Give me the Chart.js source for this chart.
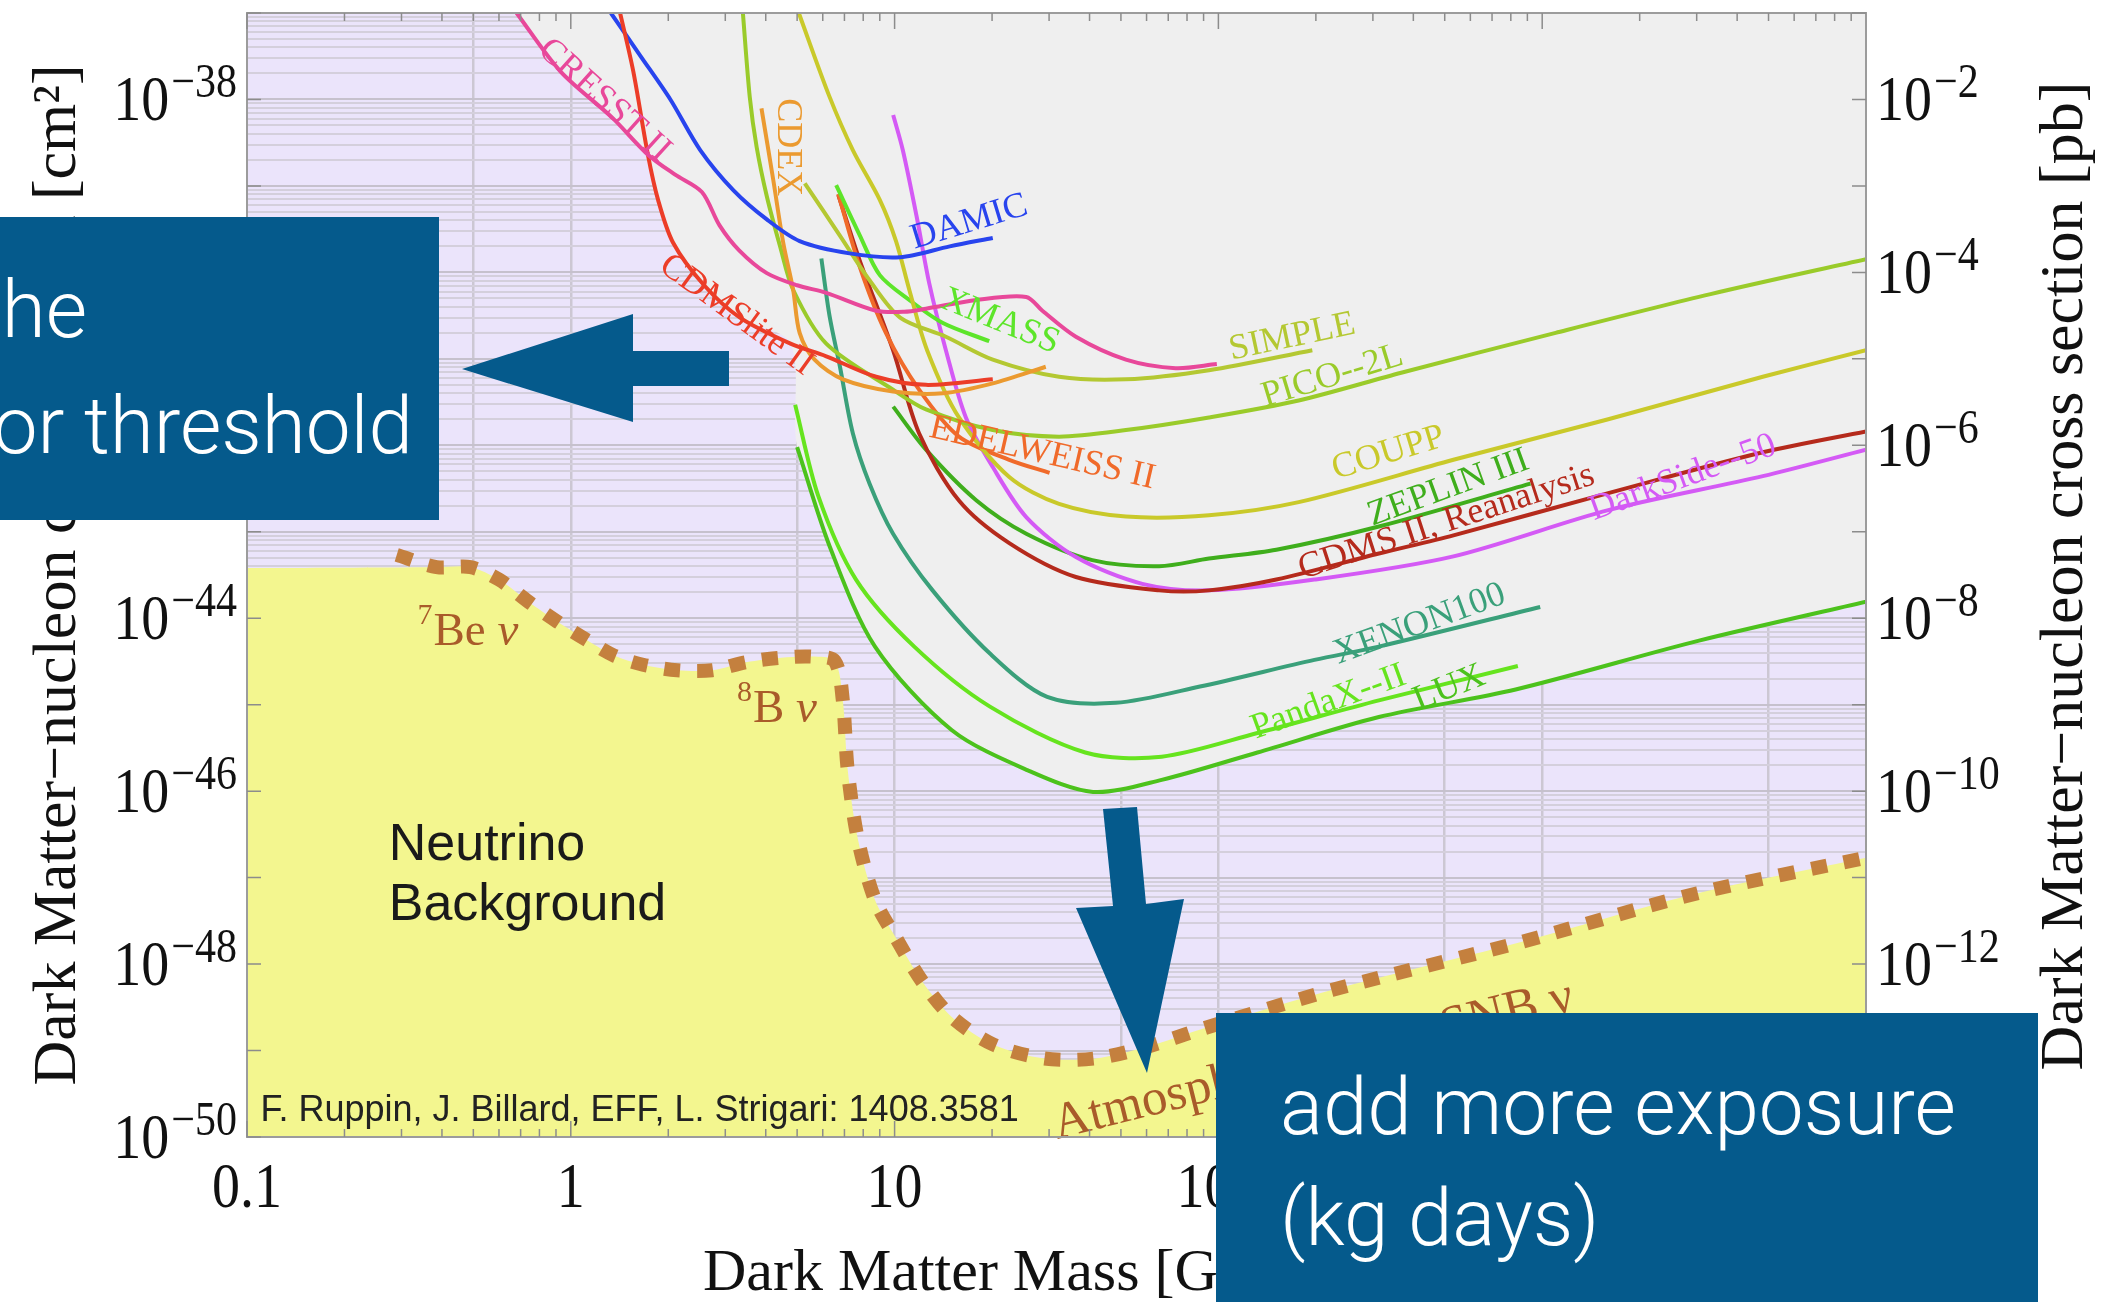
<!DOCTYPE html>
<html>
<head>
<meta charset="utf-8">
<script src="https://cdn.jsdelivr.net/npm/chart.js@4.4.1/dist/chart.umd.min.js"></script>
<style>
  html, body { margin: 0; padding: 0; background: #fff; }
  #wrap { position: relative; width: 2110px; height: 1302px; overflow: hidden; }
  canvas, svg { position: absolute; left: 0; top: 0; }
  .box { position: absolute; background: #055a8c; color: #fff; overflow: hidden;
         font-family: Roboto, "Liberation Sans", sans-serif; font-weight: 300; font-size: 80px; }
  .box span { position: absolute; white-space: nowrap; line-height: 1; }
</style>
</head>
<body>
<div id="wrap">
  <canvas id="chart" width="2110" height="1302"></canvas>
  <svg width="2110" height="1302">
    <polygon points="462,369 633,314 633,351 729,351 729,386 633,386 633,422" fill="#055a8c"/>
    <polygon points="1103,809 1137,807 1146,904 1184,899 1147,1073 1076,908 1113,906" fill="#055a8c"/>
  </svg>
  <div class="box" style="left:0;top:217px;width:439px;height:303px">
    <span style="right:352px;top:53px">lower the</span>
    <span style="right:26px;top:169px">detector threshold</span>
  </div>
  <div class="box" style="left:1216px;top:1013px;width:822px;height:289px">
    <span style="left:64px;top:54px">add more exposure</span>
    <span style="left:64px;top:165px">(kg days)</span>
  </div>
</div>
<script>
// dark matter mass in GeV, cross section in cm^2
const cresstM = [0.68, 0.93, 1.34, 1.73, 2.10, 2.54, 2.88, 3.31, 4.03, 5.0, 6.15, 8.77, 10.7, 12.5, 17.9, 25.5, 28.6, 36.3, 51.8, 73.8, 98.9]
const cresstS = [1.0e-37, 2.1e-38, 6.2e-39, 2.3e-39, 1.35e-39, 8.5e-40, 3.5e-40, 1.8e-40, 9.8e-41, 7.1e-41, 5.8e-41, 3.6e-41, 3.5e-41, 3.8e-41, 4.8e-41, 5.2e-41, 3.6e-41, 1.8e-41, 9.8e-42, 7.8e-42, 8.7e-42]

const cdmsliteM = [1.42, 1.56, 1.73, 1.86, 2.07, 2.58, 3.33, 4.77, 6.15, 8.77, 12.5, 20.1]
const cdmsliteS = [1.0e-37, 2.1e-38, 2.3e-39, 6.9e-40, 2.2e-40, 7.1e-41, 3.0e-41, 1.5e-41, 1.07e-41, 6.2e-42, 5.0e-42, 5.8e-42]

const damicM = [1.33, 1.64, 2.03, 2.51, 3.18, 4.03, 5.09, 7.26, 10.4, 14.8, 20.1]
const damicS = [1.0e-37, 3.2e-38, 1.0e-38, 2.6e-39, 8.9e-40, 4.1e-40, 2.3e-40, 1.66e-40, 1.5e-40, 2.0e-40, 2.5e-40]

const cdexM = [3.88, 4.22, 4.53, 4.86, 5.09, 5.66, 6.93, 9.89, 14.1, 20.1, 29.3]
const cdexS = [7.9e-39, 1.17e-39, 2.2e-40, 6.3e-41, 2.0e-41, 9.8e-42, 5.8e-42, 4.2e-42, 4.0e-42, 5.2e-42, 8.1e-42]

const simpleM = [5.28, 6.76, 8.37, 10.4, 14.4, 20.1, 32.2, 51.8, 93.5, 195]
const simpleS = [1.07e-39, 2.7e-40, 8.1e-41, 3.0e-41, 1.8e-41, 9.8e-42, 6.2e-42, 5.8e-42, 7.4e-42, 1.26e-41]

const picoM = [3.40, 3.57, 3.75, 4.03, 4.43, 4.86, 6.15, 9.89, 12.5, 20.1, 32.2, 51.8, 93.5, 177, 367, 1100, 3310, 10000]
const picoS = [1.0e-37, 1.07e-38, 2.8e-39, 7.6e-40, 2.0e-40, 6.3e-41, 1.5e-41, 4.4e-42, 2.6e-42, 1.5e-42, 1.26e-42, 1.5e-42, 2.1e-42, 3.3e-42, 6.9e-42, 2.0e-41, 5.6e-41, 1.42e-40]

const couppM = [5.06, 6.28, 7.43, 9.0, 10.1, 11.1, 12.6, 15.8, 22.6, 32.2, 51.8, 93.5, 177, 532, 1600, 4800, 10000]
const couppS = [1.0e-37, 1.1e-38, 2.6e-39, 6.9e-40, 2.3e-40, 6.3e-41, 1.26e-41, 2.1e-42, 4.3e-43, 2.1e-43, 1.5e-43, 1.55e-43, 2.2e-43, 6.8e-43, 2.0e-42, 6.2e-42, 1.26e-41]

const xmassM = [6.6, 7.8, 9.0, 11.1, 14.1, 19.6]
const xmassS = [1.02e-39, 2.7e-40, 9.3e-41, 4.8e-41, 2.6e-41, 1.6e-41]

const edelweissM = [6.7, 7.8, 9.4, 11.9, 15.8, 22.6, 30.1]
const edelweissS = [8.1e-40, 1.17e-40, 2.0e-41, 4.4e-42, 1.26e-42, 6.8e-43, 4.8e-43]

const cdmsM = [6.7, 7.8, 9.89, 11.9, 15.8, 22.6, 36.3, 65.6, 93.5, 151, 313, 532, 1600, 4800, 10000]
const cdmsS = [7.9e-40, 1.38e-40, 1.26e-41, 1.38e-42, 2.3e-43, 7.4e-44, 3.0e-44, 2.1e-44, 2.1e-44, 2.8e-44, 5.6e-44, 9.1e-44, 2.8e-43, 8.3e-43, 1.45e-42]

const darksideM = [9.9, 10.6, 11.7, 12.8, 14.4, 16.6, 20.1, 25.5, 36.3, 58.2, 93.5, 198, 532, 1600, 4800, 10000]
const darksideS = [6.6e-39, 2.6e-39, 4.4e-40, 7.4e-41, 1.26e-41, 2.1e-42, 5.6e-43, 1.48e-43, 5.1e-44, 2.5e-44, 2.1e-44, 2.8e-44, 5.2e-44, 1.78e-43, 4.4e-43, 8.9e-43]

const zeplinM = [9.9, 12.5, 17.9, 25.5, 40.8, 65.6, 93.5, 151, 313, 920]
const zeplinS = [2.8e-42, 8.9e-43, 2.3e-43, 9.5e-44, 4.7e-44, 4.0e-44, 4.9e-44, 6.2e-44, 1.15e-43, 3.6e-43]

const xenonM = [5.94, 6.3, 6.78, 7.43, 8.37, 9.89, 13.1, 19.7, 29.6, 48.2, 87.7, 198, 313, 986]
const xenonS = [1.45e-40, 3.1e-41, 8.1e-42, 1.38e-42, 3.6e-43, 9.5e-44, 2.1e-44, 3.9e-45, 1.23e-45, 1.05e-45, 1.62e-45, 3.3e-45, 4.7e-45, 1.35e-44]

const pandaxM = [4.93, 5.81, 7.6, 11.5, 19.7, 38.8, 66.8, 132, 313, 841]
const pandaxS = [2.95e-42, 2.6e-43, 2.8e-44, 4.7e-45, 9.5e-46, 2.8e-46, 2.5e-46, 4.7e-46, 1.12e-45, 2.8e-45]

const luxM = [5.0, 6.3, 8.7, 15.0, 25.8, 41.0, 66.8, 132, 313, 828, 3050, 10000]
const luxS = [9.5e-43, 6.8e-44, 4.7e-45, 5.1e-46, 1.74e-46, 9.8e-47, 1.35e-46, 2.8e-46, 7.2e-46, 1.5e-45, 5.5e-45, 1.55e-44]

// neutrino floor
const floorM = [0.29, 0.385, 0.49, 0.60, 0.74, 0.91, 1.12, 1.36, 1.67, 2.13, 2.73, 3.48, 4.46, 5.55, 6.53, 6.92, 7.16, 7.7, 8.7, 10.1, 12.2, 15.1, 20.2, 29.0, 41.6, 59.8, 89, 224, 832, 3020, 10000]
const floorS = [5.4e-44, 3.9e-44, 3.9e-44, 2.8e-44, 1.55e-44, 9.1e-45, 5.6e-45, 3.7e-45, 2.9e-45, 2.5e-45, 2.5e-45, 3.1e-45, 3.5e-45, 3.6e-45, 3.2e-45, 1.12e-45, 1.8e-46, 2.8e-47, 5.5e-48, 2.0e-48, 6.2e-49, 2.4e-49, 1.17e-49, 8.1e-50, 8.1e-50, 1.1e-49, 1.78e-49, 5.0e-49, 1.74e-48, 6.6e-48, 1.7e-47]
const floorFlat = 3.8e-44

// axes
const xTickVals = [0.1, 1, 10, 100, 1000, 10000]
const xTickText = ['0.1', '1', '10', '100', '1000', ['10', '4']]
const xGridVals = [0.5, 1, 5, 10, 50, 100, 500, 1000, 5000]
const yLeftExp = [-38, -40, -42, -44, -46, -48, -50]
const yRightExp = [-2, -4, -6, -8, -10, -12, -14]

const curveLabels = [
  { text: 'CRESST II', m: 1.27, s: 9.8e-39, a: 42, c: '#e8489a' },
  { text: 'CDEX', m: 4.68, s: 2.8e-39, a: 90, c: '#eb9a30' },
  { text: 'DAMIC', m: 17.0, s: 3.8e-40, a: -17, c: '#2844ee' },
  { text: 'XMASS', m: 21.2, s: 2.7e-41, a: 22, c: '#5de52a' },
  { text: 'CDMSlite II', m: 3.25, s: 3.2e-41, a: 36, c: '#ec3d28' },
  { text: 'SIMPLE', m: 169, s: 1.78e-41, a: -12, c: '#b4c832' },
  { text: 'PICO--2L', m: 225, s: 6.3e-42, a: -17, c: '#9acb2a' },
  { text: 'EDELWEISS II', m: 28.6, s: 8.1e-43, a: 13, c: '#f06a2a' },
  { text: 'COUPP', m: 335, s: 8.1e-43, a: -17, c: '#c9c92a' },
  { text: 'ZEPLIN III', m: 513, s: 3.2e-43, a: -20, c: '#3fae1c' },
  { text: 'CDMS II, Reanalysis', m: 506, s: 1.29e-43, a: -18, c: '#b52a1c' },
  { text: 'DarkSide--50', m: 2720, s: 4.2e-43, a: -20, c: '#d45af5' },
  { text: 'XENON100', m: 418, s: 8.5e-45, a: -20, c: '#3aa07a' },
  { text: 'PandaX--II', m: 219, s: 1.07e-45, a: -20, c: '#66e41e' },
  { text: 'LUX', m: 516, s: 1.55e-45, a: -22, c: '#4cc21c' }
]

function pts(m, s) {
  return m.map((v, i) => ({ x: v, y: s[i] }))
}

function curve(label, m, s, color) {
  return { label, data: pts(m, s), borderColor: color, borderWidth: 4, tension: 0.3, fill: false, order: 0 }
}

// region already excluded: lowest envelope of the limits
const excluded = [
  ...pts(cresstM, cresstS).filter(p => p.x <= 1.73),
  ...pts(cdmsliteM, cdmsliteS).filter(p => p.x > 1.73 && p.x < 5),
  ...pts(luxM, luxS)
]
const nuRegion = [{ x: 0.1, y: floorFlat }, ...pts(floorM, floorS).slice(1)]

const serif = '"Liberation Serif", "Times New Roman", serif'
const sans = '"Liberation Sans", Arial, sans-serif'

function isDecade(v) {
  const l = Math.log10(v)
  return Math.abs(l - Math.round(l)) < 1e-6
}

function drawPow(ctx, base, exp, x, y, align) {
  ctx.font = '56px ' + serif
  const wb = ctx.measureText(base).width
  ctx.font = '42px ' + serif
  const we = ctx.measureText(exp).width
  let x0 = x
  if (align === 'right') x0 = x - wb - we - 2
  if (align === 'center') x0 = x - (wb + we + 2) / 2
  ctx.save()
  ctx.translate(x0, y)
  ctx.scale(1, 1.15)
  ctx.font = '56px ' + serif
  ctx.fillText(base, 0, 0)
  ctx.font = '42px ' + serif
  ctx.fillText(exp, wb + 2, -20)
  ctx.restore()
}

const decor = {
  id: 'decor',
  beforeDraw(chart) {
    const { ctx, chartArea: a } = chart
    ctx.save()
    ctx.fillStyle = '#ebe4fb'
    ctx.fillRect(a.left, a.top, a.right - a.left, a.bottom - a.top)
    ctx.restore()
  },
  afterDatasetsDraw(chart) {
    const { ctx, chartArea: a, scales: { x, y, y2 } } = chart
    ctx.save()

    // curve names
    ctx.textAlign = 'center'
    ctx.textBaseline = 'middle'
    ctx.font = '36px ' + serif
    curveLabels.forEach(l => {
      ctx.save()
      ctx.translate(x.getPixelForValue(l.m), y.getPixelForValue(l.s))
      ctx.rotate(l.a * Math.PI / 180)
      ctx.fillStyle = l.c
      ctx.fillText(l.text, 0, 0)
      ctx.restore()
    })

    // neutrino labels
    ctx.textAlign = 'left'
    ctx.textBaseline = 'alphabetic'
    ctx.fillStyle = '#a95b2a'
    let px = x.getPixelForValue(0.336), py = y.getPixelForValue(4.9e-45)
    ctx.font = '30px ' + serif
    ctx.fillText('7', px, py - 21)
    ctx.font = '47px ' + serif
    ctx.fillText('Be ', px + 16, py)
    let w = ctx.measureText('Be ').width
    ctx.font = 'italic 47px ' + serif
    ctx.fillText('ν', px + 16 + w, py)

    px = x.getPixelForValue(3.26); py = y.getPixelForValue(6.3e-46)
    ctx.font = '30px ' + serif
    ctx.fillText('8', px, py - 21)
    ctx.font = '47px ' + serif
    ctx.fillText('B ', px + 16, py)
    w = ctx.measureText('B ').width
    ctx.font = 'italic 47px ' + serif
    ctx.fillText('ν', px + 16 + w, py)

    ctx.save()
    ctx.translate(x.getPixelForValue(31.8), y.getPixelForValue(0.95e-50))
    ctx.rotate(-14 * Math.PI / 180)
    ctx.font = '51px ' + serif
    ctx.fillText('Atmospheric and DSNB ν', 0, 0)
    ctx.restore()

    ctx.fillStyle = '#1a1a1a'
    ctx.font = '52px ' + sans
    px = x.getPixelForValue(0.274)
    ctx.fillText('Neutrino', px, y.getPixelForValue(1.6e-47))
    ctx.fillText('Background', px, y.getPixelForValue(3.2e-48))

    ctx.fillStyle = '#222'
    ctx.font = '36px ' + sans
    ctx.fillText('F. Ruppin, J. Billard, EFF, L. Strigari: 1408.3581', x.getPixelForValue(0.11), y.getPixelForValue(1.55e-50))

    // frame and tick marks
    ctx.strokeStyle = '#9c9c9c'
    ctx.lineWidth = 2
    ctx.strokeRect(a.left, a.top, a.right - a.left, a.bottom - a.top)
    ctx.strokeStyle = '#8c8c8c'
    ctx.lineWidth = 1.5
    ctx.beginPath()
    for (let n = -1; n < 4; n++) {
      for (let k = 1; k < 10; k++) {
        const tx = x.getPixelForValue(k * Math.pow(10, n))
        const len = k === 1 ? 16 : 8
        ctx.moveTo(tx, a.bottom); ctx.lineTo(tx, a.bottom - len)
        ctx.moveTo(tx, a.top); ctx.lineTo(tx, a.top + len)
      }
    }
    for (let e = -50; e <= -37; e++) {
      const ty = y.getPixelForValue(Math.pow(10, e))
      ctx.moveTo(a.left, ty); ctx.lineTo(a.left + 14, ty)
      ctx.moveTo(a.right, ty); ctx.lineTo(a.right - 14, ty)
    }
    ctx.stroke()

    // tick labels
    ctx.fillStyle = '#111'
    ctx.textAlign = 'left'
    ctx.textBaseline = 'alphabetic'
    yLeftExp.forEach(e => {
      drawPow(ctx, '10', '−' + (-e), a.left - 10, y.getPixelForValue(Math.pow(10, e)) + 21, 'right')
    })
    yRightExp.forEach(e => {
      drawPow(ctx, '10', '−' + (-e), a.right + 10, y2.getPixelForValue(Math.pow(10, e)) + 21, 'left')
    })
    xTickVals.forEach((v, i) => {
      const t = xTickText[i]
      const tx = x.getPixelForValue(v)
      if (Array.isArray(t)) {
        drawPow(ctx, t[0], t[1], tx, 1207, 'center')
      } else {
        ctx.save()
        ctx.translate(tx, 1207)
        ctx.scale(1, 1.15)
        ctx.font = '56px ' + serif
        ctx.textAlign = 'center'
        ctx.fillText(t, 0, 0)
        ctx.restore()
      }
    })

    // axis titles
    ctx.font = '60px ' + serif
    ctx.textAlign = 'left'
    ctx.fillText('Dark Matter Mass [GeV]', 703, 1290)
    ctx.textAlign = 'center'
    ctx.save()
    ctx.translate(75, 575)
    ctx.rotate(-Math.PI / 2)
    ctx.font = '62px ' + serif
    ctx.fillText('Dark Matter−nucleon cross section [cm²]', 0, 0)
    ctx.restore()
    ctx.save()
    ctx.translate(2082, 576)
    ctx.rotate(-Math.PI / 2)
    ctx.font = '62px ' + serif
    ctx.fillText('Dark Matter−nucleon cross section [pb]', 0, 0)
    ctx.restore()

    ctx.restore()
  }
}

const yGridVals = []
for (let e = -50; e < -37; e++) {
  for (let k = 1; k < 10; k++) yGridVals.push(k * Math.pow(10, e))
}

new Chart(document.getElementById('chart'), {
  type: 'line',
  data: {
    datasets: [
      { label: 'excluded', data: excluded, borderWidth: 0, borderColor: 'transparent', backgroundColor: '#efefef', fill: 'end', tension: 0.3, order: 100 },
      { label: 'neutrino background', data: nuRegion, borderWidth: 0, borderColor: 'transparent', backgroundColor: '#f3f68f', fill: 'start', tension: 0.3, order: 90 },
      { label: 'neutrino floor', data: pts(floorM, floorS), borderWidth: 14, borderColor: '#c4803e', borderDash: [16, 17], fill: false, tension: 0.3, order: 80 },
      curve('CRESST II', cresstM, cresstS, '#e8489a'),
      curve('CDMSlite II', cdmsliteM, cdmsliteS, '#ec3d28'),
      curve('DAMIC', damicM, damicS, '#2844ee'),
      curve('CDEX', cdexM, cdexS, '#eb9a30'),
      curve('SIMPLE', simpleM, simpleS, '#b4c832'),
      curve('PICO-2L', picoM, picoS, '#9acb2a'),
      curve('COUPP', couppM, couppS, '#c9c92a'),
      curve('XMASS', xmassM, xmassS, '#5de52a'),
      curve('EDELWEISS II', edelweissM, edelweissS, '#f06a2a'),
      curve('CDMS II', cdmsM, cdmsS, '#b52a1c'),
      curve('DarkSide-50', darksideM, darksideS, '#d45af5'),
      curve('ZEPLIN III', zeplinM, zeplinS, '#3fae1c'),
      curve('XENON100', xenonM, xenonS, '#3aa07a'),
      curve('PandaX-II', pandaxM, pandaxS, '#66e41e'),
      curve('LUX', luxM, luxS, '#4cc21c')
    ]
  },
  options: {
    responsive: false,
    animation: false,
    devicePixelRatio: 1,
    layout: { padding: { left: 247, top: 13, right: 244, bottom: 165 } },
    elements: { point: { radius: 0 } },
    plugins: { legend: { display: false }, tooltip: { enabled: false } },
    scales: {
      x: {
        type: 'logarithmic', min: 0.1, max: 10000,
        ticks: { display: false },
        border: { display: false },
        grid: { color: '#ccc7d3', lineWidth: 2.5, drawTicks: false },
        afterBuildTicks: s => { s.ticks = xGridVals.map(v => ({ value: v })) }
      },
      y: {
        type: 'logarithmic', min: 1e-50, max: 1e-37,
        ticks: { display: false },
        border: { display: false },
        grid: { color: c => isDecade(c.tick.value) ? '#c6c1cd' : '#d4cfdc', lineWidth: 2, drawTicks: false },
        afterBuildTicks: s => { s.ticks = yGridVals.map(v => ({ value: v })) }
      },
      y2: {
        type: 'logarithmic', position: 'right', min: 1e-14, max: 1e-1,
        ticks: { display: false },
        border: { display: false },
        grid: { display: false, drawTicks: false }
      }
    }
  },
  plugins: [decor]
})
</script>
</body>
</html>
